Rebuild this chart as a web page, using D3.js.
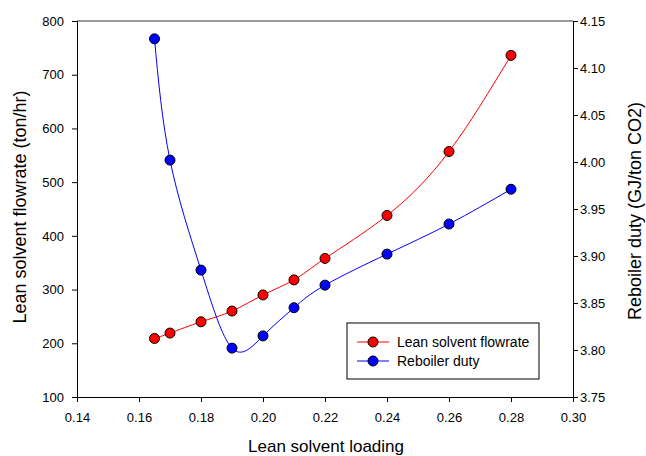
<!DOCTYPE html>
<html lang="en">
<head>
  <meta charset="UTF-8">
  <title>Lean solvent loading</title>
  <style>
    body { margin: 0; background: #fff; }
    svg { font-family: 'Liberation Sans', Arial, sans-serif; }
    .tick text { font-size: 13px; fill: #000; }
    .axis-title { font-size: 17px; fill: #000; }
    .axis-title.vert { font-size: 18px; }
    .legend text { font-size: 14px; fill: #000; }
  </style>
</head>
<body>
  <div id="chart"></div>
  <script src="https://d3js.org/d3.v7.min.js"></script>
  <script>
    // values
    const loading = [0.165, 0.17, 0.18, 0.19, 0.20, 0.21, 0.22, 0.24, 0.26, 0.28];
    const flowrate = [209, 219, 240, 260, 290, 318, 358, 438, 557, 736];
    const duty = [4.131, 4.002, 3.885, 3.802, 3.815, 3.845, 3.869, 3.902, 3.934, 3.971];
    const xTicks = [0.14, 0.16, 0.18, 0.20, 0.22, 0.24, 0.26, 0.28, 0.30];
    const leftTicks = [100, 200, 300, 400, 500, 600, 700, 800];
    const rightTicks = [3.75, 3.80, 3.85, 3.90, 3.95, 4.00, 4.05, 4.10, 4.15];

    const width = 646, height = 456;
    const margin = { top: 21, right: 73, bottom: 59, left: 77 };

    const svg = d3.select('#chart').append('svg')
      .attr('width', width)
      .attr('height', height);

    const x = d3.scaleLinear().domain([0.14, 0.30]).range([margin.left, width - margin.right]);
    const yL = d3.scaleLinear().domain([100, 800]).range([height - margin.bottom, margin.top]);
    const yR = d3.scaleLinear().domain([3.75, 4.15]).range([height - margin.bottom, margin.top]);

    // top border is grey in the original
    svg.append('line')
      .attr('x1', x(0.14)).attr('x2', x(0.30))
      .attr('y1', margin.top).attr('y2', margin.top)
      .attr('stroke', '#777').attr('stroke-width', 1.5);

    svg.append('g')
      .attr('transform', `translate(0,${height - margin.bottom})`)
      .call(d3.axisBottom(x).tickValues(xTicks).tickFormat(d3.format('.2f')).tickSizeOuter(0).tickSize(5).tickPadding(11));

    svg.append('g')
      .attr('transform', `translate(${margin.left},0)`)
      .call(d3.axisLeft(yL).tickValues(leftTicks).tickSizeOuter(0).tickSize(5).tickPadding(8));

    svg.append('g')
      .attr('transform', `translate(${width - margin.right},0)`)
      .call(d3.axisRight(yR).tickValues(rightTicks).tickFormat(d3.format('.2f')).tickSizeOuter(0).tickSize(5).tickPadding(2));

    svg.selectAll('.domain, .tick line').attr('stroke', '#000');

    // lines
    const redLine = d3.line()
      .x((d, i) => x(loading[i]))
      .y(d => yL(d))
      .curve(d3.curveNatural);
    const blueLine = d3.line()
      .x((d, i) => x(loading[i]))
      .y(d => yR(d))
      .curve(d3.curveNatural);

    svg.append('path').datum(flowrate)
      .attr('d', redLine).attr('fill', 'none').attr('stroke', '#ff0000').attr('stroke-width', 1);
    svg.append('path').datum(duty)
      .attr('d', blueLine).attr('fill', 'none').attr('stroke', '#0000ff').attr('stroke-width', 1);

    svg.selectAll('.red-dot').data(flowrate).enter().append('circle')
      .attr('cx', (d, i) => x(loading[i])).attr('cy', d => yL(d)).attr('r', 5)
      .attr('fill', '#ff0000').attr('stroke', '#000').attr('stroke-width', 1);
    svg.selectAll('.blue-dot').data(duty).enter().append('circle')
      .attr('cx', (d, i) => x(loading[i])).attr('cy', d => yR(d)).attr('r', 5)
      .attr('fill', '#0000ff').attr('stroke', '#000').attr('stroke-width', 1);

    // axis titles
    svg.append('text').attr('class', 'axis-title')
      .attr('x', 326).attr('y', 452)
      .attr('text-anchor', 'middle').text('Lean solvent loading');
    svg.append('text').attr('class', 'axis-title vert')
      .attr('transform', 'translate(26,207) rotate(-90)')
      .attr('text-anchor', 'middle').text('Lean solvent flowrate (ton/hr)');
    svg.append('text').attr('class', 'axis-title vert')
      .attr('transform', 'translate(641,211) rotate(-90)')
      .attr('text-anchor', 'middle').text('Reboiler duty (GJ/ton CO2)');

    // legend
    const legend = svg.append('g').attr('class', 'legend');
    legend.append('rect')
      .attr('x', 347).attr('y', 323).attr('width', 192).attr('height', 56)
      .attr('fill', '#fff').attr('stroke', '#000').attr('stroke-width', 1);
    const entries = [
      { label: 'Lean solvent flowrate', color: '#ff0000' },
      { label: 'Reboiler duty', color: '#0000ff' }
    ];
    entries.forEach((e, i) => {
      const cy = 342 + i * 19;
      legend.append('line').attr('x1', 357).attr('x2', 389).attr('y1', cy).attr('y2', cy)
        .attr('stroke', e.color).attr('stroke-width', 1);
      legend.append('circle').attr('cx', 373).attr('cy', cy).attr('r', 5)
        .attr('fill', e.color).attr('stroke', '#000');
      legend.append('text').attr('x', 397).attr('y', cy + 5).text(e.label);
    });
  </script>
</body>
</html>
